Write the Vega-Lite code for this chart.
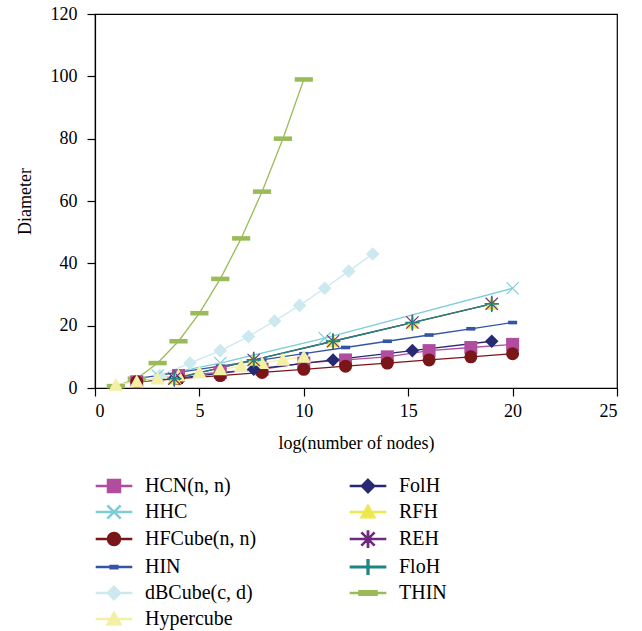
{
"$schema": "https://vega.github.io/schema/vega-lite/v6.json",
"width": 522, "height": 374,
"autosize": {"type": "none"},
"padding": {"left": 95, "top": 14, "right": 25, "bottom": 243},
"background": "white",
"config": {
  "font": "Liberation Serif",
  "view": {"stroke": "black", "strokeWidth": 1.2},
  "axis": {"domainColor": "black", "domainWidth": 1.2, "tickColor": "black", "tickWidth": 1.2, "tickSize": 8, "labelFontSize": 18, "labelColor": "black", "titleFontSize": 18, "titleFontWeight": "normal", "titleColor": "black", "grid": false, "labelFont": "Liberation Serif", "titleFont": "Liberation Serif"}
},
"data": {"values": [
{"s":"THIN","x":1,"y":0.6},{"s":"THIN","x":2,"y":3},{"s":"THIN","x":3,"y":8},{"s":"THIN","x":4,"y":15},{"s":"THIN","x":5,"y":24},{"s":"THIN","x":6,"y":35},{"s":"THIN","x":7,"y":48},{"s":"THIN","x":8,"y":63},{"s":"THIN","x":9,"y":80},{"s":"THIN","x":10,"y":99},
{"s":"dBCube(c, d)","x":3.1,"y":4},{"s":"dBCube(c, d)","x":4.55,"y":8},{"s":"dBCube(c, d)","x":6,"y":12},{"s":"dBCube(c, d)","x":7.35,"y":16.5},{"s":"dBCube(c, d)","x":8.6,"y":21.5},{"s":"dBCube(c, d)","x":9.8,"y":26.5},{"s":"dBCube(c, d)","x":11,"y":32},{"s":"dBCube(c, d)","x":12.15,"y":37.5},{"s":"dBCube(c, d)","x":13.3,"y":43},
{"s":"HHC","x":3,"y":4},{"s":"HHC","x":6,"y":8},{"s":"HHC","x":11,"y":16},{"s":"HHC","x":20,"y":32},
{"s":"HIN","x":2,"y":3},{"s":"HIN","x":4,"y":5},{"s":"HIN","x":6,"y":7},{"s":"HIN","x":8,"y":9},{"s":"HIN","x":10,"y":11},{"s":"HIN","x":12,"y":13},{"s":"HIN","x":14,"y":15},{"s":"HIN","x":16,"y":17},{"s":"HIN","x":18,"y":19},{"s":"HIN","x":20,"y":21},
{"s":"HCN(n, n)","x":2,"y":2},{"s":"HCN(n, n)","x":4,"y":4},{"s":"HCN(n, n)","x":6,"y":5},{"s":"HCN(n, n)","x":8,"y":6},{"s":"HCN(n, n)","x":10,"y":8},{"s":"HCN(n, n)","x":12,"y":9},{"s":"HCN(n, n)","x":14,"y":10},{"s":"HCN(n, n)","x":16,"y":12},{"s":"HCN(n, n)","x":18,"y":13},{"s":"HCN(n, n)","x":20,"y":14},
{"s":"HFCube(n, n)","x":2,"y":2},{"s":"HFCube(n, n)","x":4,"y":3},{"s":"HFCube(n, n)","x":6,"y":4},{"s":"HFCube(n, n)","x":8,"y":5},{"s":"HFCube(n, n)","x":10,"y":6},{"s":"HFCube(n, n)","x":12,"y":7},{"s":"HFCube(n, n)","x":14,"y":8},{"s":"HFCube(n, n)","x":16,"y":9},{"s":"HFCube(n, n)","x":18,"y":10},{"s":"HFCube(n, n)","x":20,"y":11},
{"s":"Hypercube","x":1,"y":1},{"s":"Hypercube","x":2,"y":2},{"s":"Hypercube","x":3,"y":3},{"s":"Hypercube","x":4,"y":4},{"s":"Hypercube","x":5,"y":5},{"s":"Hypercube","x":6,"y":6},{"s":"Hypercube","x":7,"y":7},{"s":"Hypercube","x":8,"y":8},{"s":"Hypercube","x":9,"y":9},{"s":"Hypercube","x":10,"y":10},
{"s":"FolH","x":3.8,"y":3},{"s":"FolH","x":7.6,"y":6},{"s":"FolH","x":11.4,"y":9},{"s":"FolH","x":15.2,"y":12},{"s":"FolH","x":19,"y":15},
{"s":"RFH","x":3.8,"y":3},{"s":"RFH","x":7.6,"y":9},{"s":"RFH","x":11.4,"y":15},{"s":"RFH","x":15.2,"y":21},{"s":"RFH","x":19,"y":27},
{"s":"REH","x":3.8,"y":3},{"s":"REH","x":7.6,"y":9},{"s":"REH","x":11.4,"y":15},{"s":"REH","x":15.2,"y":21},{"s":"REH","x":19,"y":27},
{"s":"FloH","x":3.8,"y":3},{"s":"FloH","x":7.6,"y":9},{"s":"FloH","x":11.4,"y":15},{"s":"FloH","x":15.2,"y":21},{"s":"FloH","x":19,"y":27}
]},
"layer": [
  {"mark": {"type": "line", "strokeWidth": 1.3},
   "encoding": {
     "x": {"field": "x", "type": "quantitative", "scale": {"domain": [0, 25], "nice": false}, "axis": {"values": [0,5,10,15,20,25], "title": "log(number of nodes)", "labelPadding": 6, "titlePadding": 14}},
     "y": {"field": "y", "type": "quantitative", "scale": {"domain": [0, 120], "nice": false}, "axis": {"values": [0,20,40,60,80,100,120], "title": "Diameter", "labelPadding": 10, "titlePadding": 16}},
     "color": {"field": "s", "type": "nominal",
       "scale": {"domain": ["HCN(n, n)","HHC","HFCube(n, n)","HIN","dBCube(c, d)","Hypercube","FolH","RFH","REH","FloH","THIN"],
                 "range": ["#B24C9F","#7FCDD9","#7A1518","#3654A5","#CBE9EF","#F3EFA3","#262A72","#EDE84E","#6E2A7F","#1F8582","#9BBB59"]},
       "legend": {"title": null, "orient": "none", "legendX": 0, "legendY": 462, "columns": 2, "columnPadding": 90, "rowPadding": 5,
         "symbolSize": 169, "symbolOffset": 9, "labelOffset": 21, "labelFontSize": 20, "labelFont": "Liberation Serif", "labelColor": "black", "labelLimit": 200,
         "encode": {"symbols": {"update": {
           "shape": {"signal": "['M-1,-1H1V1H-1ZM-2.7,-0.09H2.7V0.09H-2.7Z','M-1,-0.88L-0.88,-1L1,0.88L0.88,1ZM0.88,-1L1,-0.88L-0.88,1L-1,0.88ZM-2.7,-0.09H2.7V0.09H-2.7Z','M-1,0A1,1,0,1,1,1,0A1,1,0,1,1,-1,0ZM-2.7,-0.09H2.7V0.09H-2.7Z','M-0.6,-0.25H0.6V0.25H-0.6ZM-2.7,-0.09H2.7V0.09H-2.7Z','M0,-1.05L1.05,0L0,1.05L-1.05,0ZM-2.7,-0.09H2.7V0.09H-2.7Z','M0,-1.1L1.1,0.9L-1.1,0.9ZM-2.7,-0.09H2.7V0.09H-2.7Z','M0,-1.05L1.05,0L0,1.05L-1.05,0ZM-2.7,-0.09H2.7V0.09H-2.7Z','M0,-1.1L1.1,0.9L-1.1,0.9ZM-2.7,-0.09H2.7V0.09H-2.7Z','M-1,-0.88L-0.88,-1L1,0.88L0.88,1ZM0.88,-1L1,-0.88L-0.88,1L-1,0.88ZM-0.1,-1.25H0.1V1.25H-0.1ZM-2.7,-0.09H2.7V0.09H-2.7Z','M-0.14,-1.1H0.14V1.1H-0.14ZM-2.7,-0.12H2.7V0.12H-2.7Z','M-1.4,-0.35H1.4V0.35H-1.4ZM-2.7,-0.09H2.7V0.09H-2.7Z'][indexof(['HCN(n, n)','HHC','HFCube(n, n)','HIN','dBCube(c, d)','Hypercube','FolH','RFH','REH','FloH','THIN'], datum.value)]"}
         }}}}}
   }},
  {"mark": {"type": "point", "filled": true, "opacity": 1, "size": 169},
   "encoding": {
     "x": {"field": "x", "type": "quantitative"},
     "y": {"field": "y", "type": "quantitative"},
     "color": {"field": "s", "type": "nominal"},
     "shape": {"field": "s", "type": "nominal", "legend": null,
       "scale": {"domain": ["THIN","FloH","REH","RFH","FolH","Hypercube","dBCube(c, d)","HIN","HFCube(n, n)","HHC","HCN(n, n)"],
                 "range": ["M-1.4,-0.35H1.4V0.35H-1.4Z","M-1.1,-0.14H1.1V0.14H-1.1ZM-0.14,-1.1H0.14V1.1H-0.14Z","M-1,-0.88L-0.88,-1L1,0.88L0.88,1ZM0.88,-1L1,-0.88L-0.88,1L-1,0.88ZM-0.1,-1.25H0.1V1.25H-0.1Z","M0,-1.1L1.1,0.9L-1.1,0.9Z","M0,-1.05L1.05,0L0,1.05L-1.05,0Z","M0,-1.1L1.1,0.9L-1.1,0.9Z","M0,-1.05L1.05,0L0,1.05L-1.05,0Z","M-0.7,-0.28H0.7V0.28H-0.7Z","circle","M-1,-0.88L-0.88,-1L1,0.88L0.88,1ZM0.88,-1L1,-0.88L-0.88,1L-1,0.88Z","M-1,-1H1V1H-1Z"]}}
   }}
]
}
